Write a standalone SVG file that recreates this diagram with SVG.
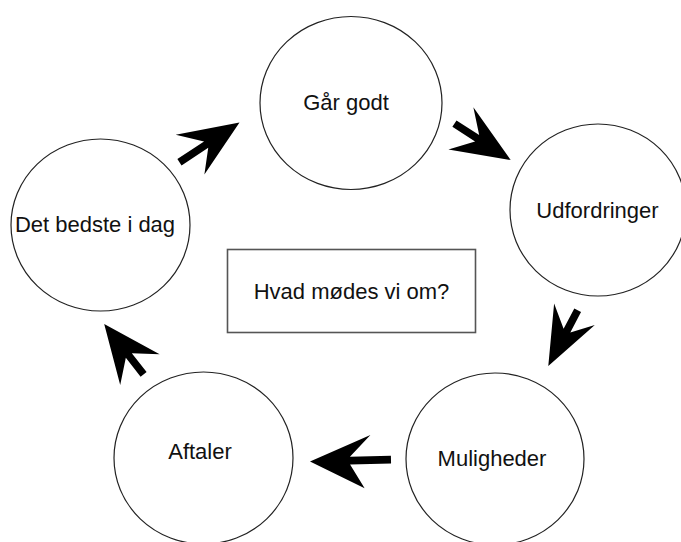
<svg xmlns="http://www.w3.org/2000/svg" width="681" height="542" viewBox="0 0 681 542">
<style>
.node ellipse{fill:#fff;stroke:#222;stroke-width:1.2}
.box rect{fill:#fff;stroke:#555;stroke-width:1.6}
text{font-family:"Liberation Sans",Arial,sans-serif;font-size:22px;fill:#111;text-anchor:middle}
.arrow{fill:#000;stroke:none}
</style>
<rect width="681" height="542" fill="#fff"/>
<g id="node-gaar-godt" class="node">
<ellipse cx="351" cy="103" rx="91" ry="86.5"/>
<text x="346" y="109.5">Går godt</text>
</g>
<g id="node-udfordringer" class="node">
<ellipse cx="598" cy="210" rx="88" ry="86"/>
<text x="597.5" y="217.5">Udfordringer</text>
</g>
<g id="node-muligheder" class="node">
<ellipse cx="495" cy="459" rx="89" ry="86"/>
<text x="492" y="466">Muligheder</text>
</g>
<g id="node-aftaler" class="node">
<ellipse cx="203.5" cy="458" rx="89.5" ry="86"/>
<text x="200" y="458.5">Aftaler</text>
</g>
<g id="node-det-bedste" class="node">
<ellipse cx="100.5" cy="225" rx="89.5" ry="86"/>
<text x="95" y="232">Det bedste i dag</text>
</g>
<g id="node-center" class="box">
<rect x="227.5" y="249.5" width="248" height="83"/>
<text x="351.5" y="298.5">Hvad mødes vi om?</text>
</g>
<g id="connectors">
<path class="arrow" transform="translate(239.5,122.5) rotate(-33.5)" d="M0,0 L-60,-25 L-40,-3.8 L-72,-3.8 L-72,3.8 L-40,3.8 L-58,24 Z"/>
<path class="arrow" transform="translate(510.7,160) rotate(32.9)" d="M0,0 L-60,-24 L-40,-3.8 L-67,-3.8 L-67,3.8 L-40,3.8 L-58,25 Z"/>
<path class="arrow" transform="translate(548.3,366) rotate(117.8)" d="M0,0 L-58,-22 L-40,-3.8 L-63,-3.8 L-63,3.8 L-40,3.8 L-58,24 Z"/>
<path class="arrow" transform="translate(310,461.5) rotate(178.7)" d="M0,0 L-54,-28 L-40,-3.8 L-81,-3.8 L-81,3.8 L-40,3.8 L-61,25 Z"/>
<path class="arrow" transform="translate(104.2,324) rotate(-128)" d="M0,0 L-58,-25 L-40,-3.8 L-64,-3.8 L-64,3.8 L-40,3.8 L-58,25 Z"/>
</g>
</svg>
